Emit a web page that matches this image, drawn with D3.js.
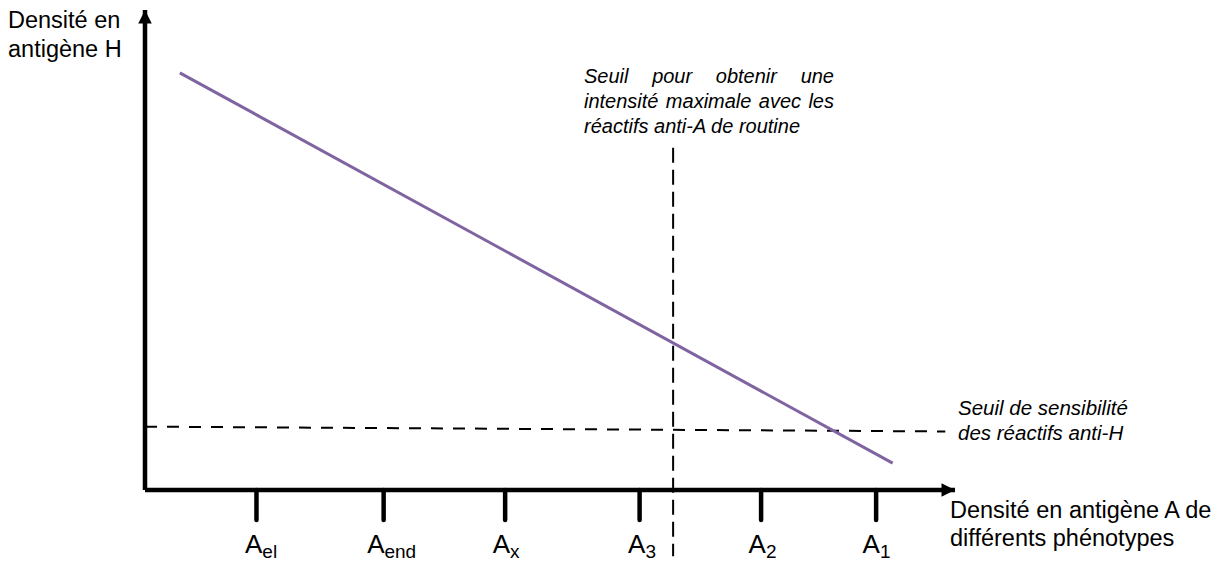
<!DOCTYPE html>
<html>
<head>
<meta charset="utf-8">
<script src="https://cdn.jsdelivr.net/npm/d3@7"></script>
<style>
  body { margin: 0; background: #fff; }
  text { font-family: "Liberation Sans", Arial, sans-serif; fill: #000; }
</style>
</head>
<body>
<div id="chart"></div>
<script>
// phenotypes along the A antigen axis (0-100 units)
var phenotypes = ["el", "end", "x", "3", "2", "1"];
var phenoPos = [13.7, 29.4, 44.4, 61.0, 76.0, 90.2];
var labelShift = [-11, -16, -12, -11, -12, -13];

// H antigen density falls as A antigen density rises
var hLine = [[4.3, 86.9], [92.3, 5.6]];

// thresholds
var seuilA = 65.2;              // max intensity with routine anti-A
var seuilAExtent = [71.3, -13.8];
var seuilH = [13.2, 12.2];      // anti-H sensitivity (start, end)
var seuilHExtent = [0, 98.8];

var width = 1227, height = 561;

var x = d3.scaleLinear().domain([0, 100]).range([145, 955]);
var y = d3.scaleLinear().domain([0, 100]).range([490, 10]);

var svg = d3.select("#chart")
    .append("svg")
    .attr("width", width)
    .attr("height", height);

var defs = svg.append("defs");
defs.append("marker")
    .attr("id", "arrow")
    .attr("viewBox", "0 0 10 10")
    .attr("refX", 10)
    .attr("refY", 5)
    .attr("markerWidth", 3.2)
    .attr("markerHeight", 3)
    .attr("markerUnits", "strokeWidth")
    .attr("orient", "auto")
    .append("path")
    .attr("d", "M0,0L10,5L0,10Z")
    .attr("fill", "#000");

// threshold lines (under the axes)
svg.append("line")
    .attr("x1", x(seuilHExtent[0])).attr("x2", x(seuilHExtent[1]))
    .attr("y1", y(seuilH[0])).attr("y2", y(seuilH[1]))
    .attr("stroke", "#000")
    .attr("stroke-width", 2)
    .attr("stroke-dasharray", "12,10");

svg.append("line")
    .attr("x1", x(seuilA)).attr("x2", x(seuilA))
    .attr("y1", y(seuilAExtent[0])).attr("y2", y(seuilAExtent[1]))
    .attr("stroke", "#000")
    .attr("stroke-width", 2)
    .attr("stroke-dasharray", "15,7");

// purple line
svg.append("path")
    .datum(hLine)
    .attr("d", d3.line().x(d => x(d[0])).y(d => y(d[1])))
    .attr("stroke", "#8064a2")
    .attr("stroke-width", 3)
    .attr("fill", "none");

// ticks
var axis = svg.append("g")
    .attr("transform", "translate(0," + y(0) + ")")
    .call(d3.axisBottom(x).tickValues(phenoPos).tickSize(30).tickFormat(""));
axis.select(".domain").remove();
axis.selectAll(".tick line")
    .attr("stroke", "#000")
    .attr("stroke-width", 4.5)
    .attr("stroke-linecap", "round");

// axes with arrows
svg.append("path")
    .attr("d", "M" + x(0) + "," + y(0) + "L" + x(100) + "," + y(0))
    .attr("stroke", "#000")
    .attr("stroke-width", 4.5)
    .attr("fill", "none")
    .attr("marker-end", "url(#arrow)");

svg.append("path")
    .attr("d", "M" + x(0) + "," + y(0) + "L" + x(0) + "," + y(100))
    .attr("stroke", "#000")
    .attr("stroke-width", 4.5)
    .attr("stroke-linejoin", "round")
    .attr("fill", "none")
    .attr("marker-end", "url(#arrow)");

// phenotype labels A with subscript
var lab = svg.selectAll(".pheno")
    .data(phenotypes)
    .enter()
    .append("text")
    .attr("class", "pheno")
    .attr("x", (d, i) => x(phenoPos[i]) + labelShift[i])
    .attr("y", 553)
    .style("font-size", "26px");
lab.append("tspan").text("A");
lab.append("tspan")
    .attr("dy", 5)
    .style("font-size", "19px")
    .text(d => d);

// axis titles
var yTitle = svg.append("text").style("font-size", "23.5px");
yTitle.append("tspan").attr("x", 8).attr("y", 28).text("Densité en");
yTitle.append("tspan").attr("x", 8).attr("y", 57).text("antigène H");

var xTitle = svg.append("text").style("font-size", "23.5px");
xTitle.append("tspan").attr("x", 950).attr("y", 518).text("Densité en antigène A de");
xTitle.append("tspan").attr("x", 950).attr("y", 546).text("différents phénotypes");

// annotation for vertical threshold (justified block)
var noteLines = [
    { words: ["Seuil", "pour", "obtenir", "une"], justify: true },
    { words: ["intensité", "maximale", "avec", "les"], justify: true },
    { words: ["réactifs", "anti-A", "de", "routine"], justify: false }
];
var noteLeft = 584, noteRight = 834, noteTop = 83, noteStep = 25;
var note = svg.append("g").style("font-size", "20px").style("font-style", "italic");
noteLines.forEach(function (ln, li) {
    var yy = noteTop + li * noteStep;
    if (!ln.justify) {
        note.append("text").attr("x", noteLeft).attr("y", yy)
            .style("font-style", "italic").text(ln.words.join(" "));
        return;
    }
    var nodes = ln.words.map(function (w) {
        return note.append("text").attr("y", yy).style("font-style", "italic").text(w);
    });
    var widths = nodes.map(n => n.node().getComputedTextLength());
    var gap = (noteRight - noteLeft - d3.sum(widths)) / (nodes.length - 1);
    var cx = noteLeft;
    nodes.forEach(function (n, i) {
        n.attr("x", cx);
        cx += widths[i] + gap;
    });
});

var noteH = svg.append("text").style("font-size", "20.5px").style("font-style", "italic");
noteH.append("tspan").attr("x", 958).attr("y", 415).text("Seuil de sensibilité");
noteH.append("tspan").attr("x", 958).attr("y", 440).text("des réactifs anti-H");
</script>
</body>
</html>
